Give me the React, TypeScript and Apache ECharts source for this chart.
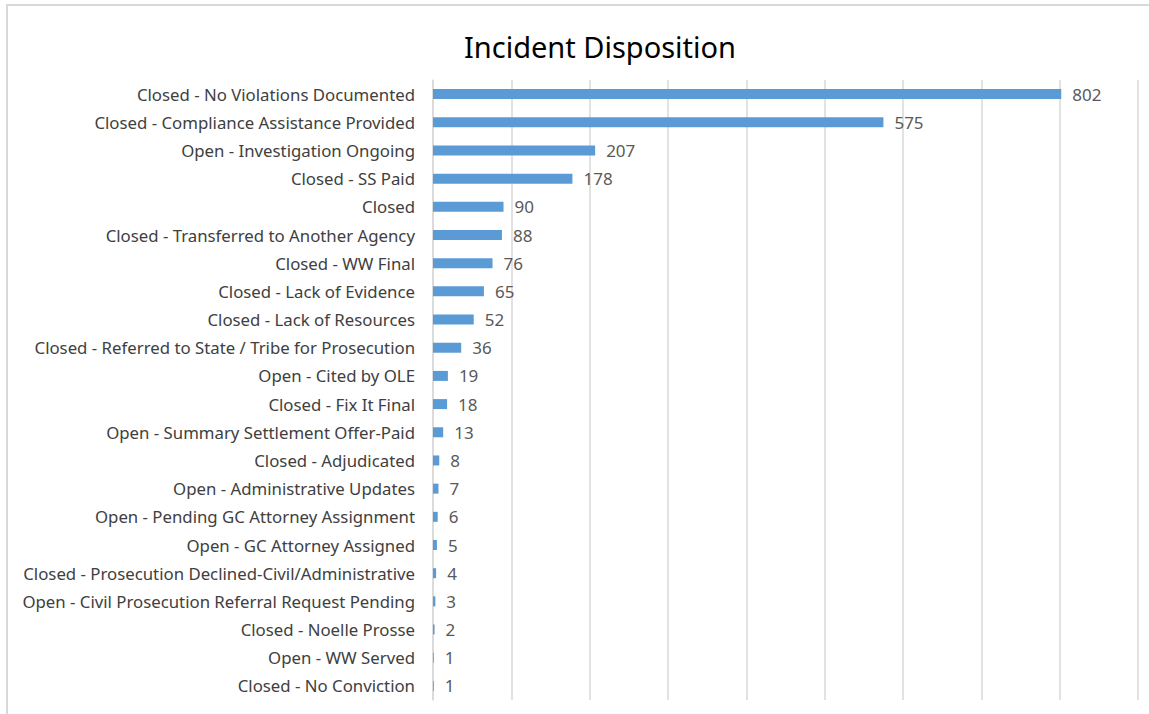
import React, { useEffect, useRef } from "react";
import * as echarts from "echarts";

const categories = [
  "Closed - No Violations Documented",
  "Closed - Compliance Assistance Provided",
  "Open - Investigation Ongoing",
  "Closed - SS Paid",
  "Closed",
  "Closed - Transferred to Another Agency",
  "Closed - WW Final",
  "Closed - Lack of Evidence",
  "Closed - Lack of Resources",
  "Closed - Referred to State / Tribe for Prosecution",
  "Open - Cited by OLE",
  "Closed - Fix It Final",
  "Open - Summary Settlement Offer-Paid",
  "Closed - Adjudicated",
  "Open - Administrative Updates",
  "Open - Pending GC Attorney Assignment",
  "Open - GC Attorney Assigned",
  "Closed - Prosecution Declined-Civil/Administrative",
  "Open - Civil Prosecution Referral Request Pending",
  "Closed - Noelle Prosse",
  "Open - WW Served",
  "Closed - No Conviction",
];

const values = [802, 575, 207, 178, 90, 88, 76, 65, 52, 36, 19, 18, 13, 8, 7, 6, 5, 4, 3, 2, 1, 1];

const title = "Incident Disposition";

export default function App() {
  const ref = useRef<HTMLDivElement>(null);
  useEffect(() => {
    if (!ref.current) return;
    const chart = echarts.init(ref.current, null, { renderer: "svg" });
    const font = "'Noto Sans', 'Open Sans', sans-serif";
    chart.setOption({
      animation: false,
      backgroundColor: "#ffffff",
      title: {
        text: title,
        left: 595,
        textAlign: "center",
        top: 27,
        textStyle: { fontFamily: font, fontSize: 29, fontWeight: "normal", color: "#000000" },
      },
      graphic: [
        {
          type: "rect",
          shape: { x: 7, y: 5, width: 1160, height: 730 },
          style: { fill: "none", stroke: "#d9d9d9", lineWidth: 2 },
          silent: true,
        },
      ],
      grid: { left: 433, right: 11, top: 80, bottom: 14, containLabel: false },
      xAxis: {
        type: "value",
        min: 0,
        max: 900,
        interval: 100,
        axisLabel: { show: false },
        axisLine: { show: false },
        axisTick: { show: false },
        splitLine: { show: true, lineStyle: { color: "#d9d9d9", width: 1.5 } },
      },
      yAxis: {
        type: "category",
        inverse: true,
        data: categories,
        axisLine: { show: true, lineStyle: { color: "#d9d9d9", width: 1.5 } },
        axisTick: { show: false },
        axisLabel: { margin: 18, fontFamily: font, fontSize: 16.8, color: "#404040" },
      },
      series: [
        {
          type: "bar",
          data: values,
          barWidth: 10,
          itemStyle: { color: "#5b9bd5" },
          label: {
            show: true,
            position: "right",
            distance: 11,
            fontFamily: font,
            fontSize: 17,
            color: "#595959",
          },
        },
      ],
    });
    return () => chart.dispose();
  }, []);
  return (
    <div
      ref={ref}
      style={{ position: "absolute", left: 0, top: 0, width: 1149, height: 714 }}
    />
  );
}
